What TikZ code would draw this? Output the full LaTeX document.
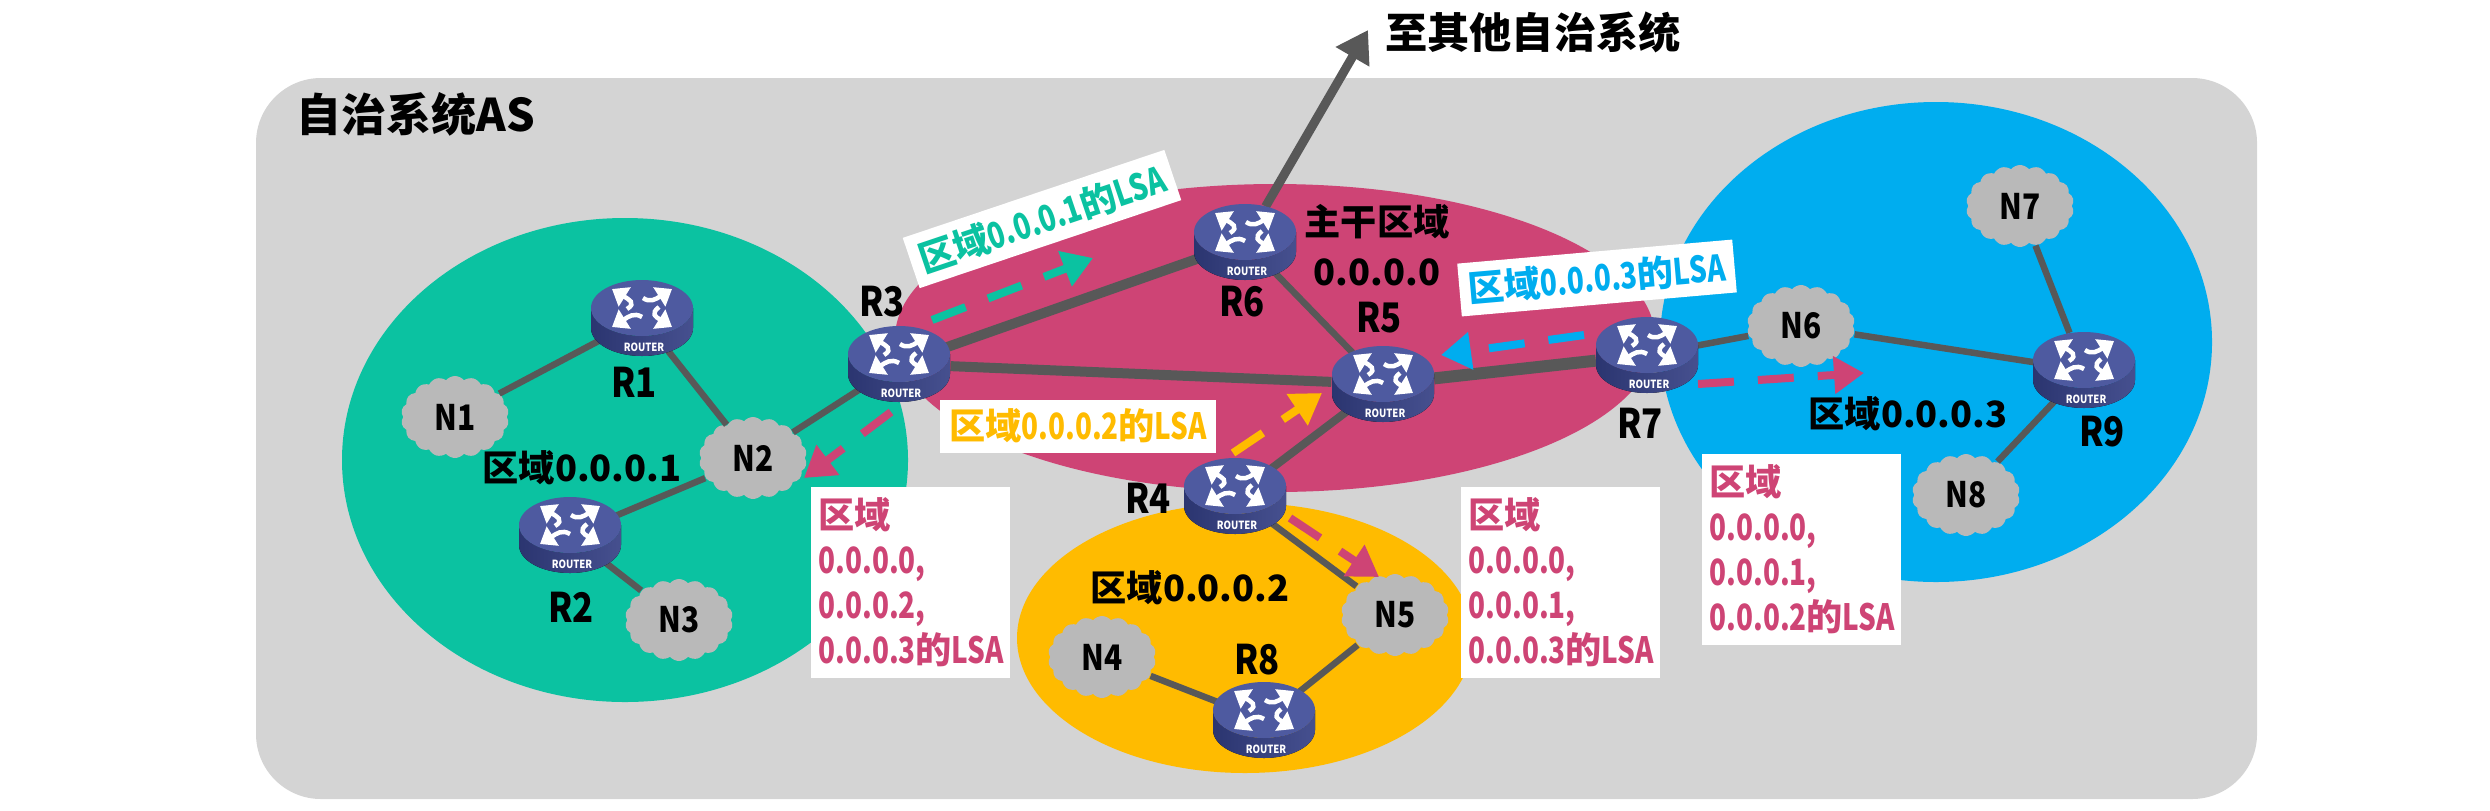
\documentclass[tikz,border=0pt]{standalone}
\usepackage{fontspec}
\setmainfont{Noto Sans CJK SC}[FakeStretch=0.85]
\newfontfamily\zhfont{Noto Sans CJK SC}
\newfontfamily\tagfont{Noto Sans CJK SC}[FakeStretch=0.77]
\usetikzlibrary{arrows.meta,shapes.geometric,shapes.symbols}

\definecolor{asgray}{HTML}{D4D4D4}
\definecolor{linegray}{HTML}{585858}
\definecolor{cloudgray}{HTML}{B9B9B9}
\definecolor{areagreen}{HTML}{0BC2A1}
\definecolor{arearose}{HTML}{CE4475}
\definecolor{areayellow}{HTML}{FFBB00}
\definecolor{areablue}{HTML}{00ADEF}
\definecolor{routertop}{HTML}{4E5AA0}
\definecolor{routerdark}{HTML}{2B3570}
\definecolor{routerside}{HTML}{46508F}

\newcommand{\qy}{{\zhfont\bfseries 区域}}
\newcommand{\de}{{\zhfont\bfseries 的}}

\tikzset{
    routericon/.pic = {
        \fill[left color=routerdark, right color=routerside] (-51,-10) arc[start angle=180, end angle=360, x radius=51, y radius=-28] -- (51,10) arc[start angle=0, end angle=-180, x radius=51, y radius=-28] -- cycle;
        \fill[routertop] (0,-10) ellipse[x radius=51, y radius=28];
        \begin{scope}[shift={(0,-10)}, white, line width=0.45mm, -{Triangle[length=1.5mm, width=2.2mm]}]
            \draw (-15,1) .. controls (-5,-5) and (-14,-9) .. (-30,-19);
            \draw (1,-10) .. controls (8,-5) and (14,-9) .. (30,-19);
            \draw (0,9) .. controls (-8,4) and (-14,9) .. (-30,19);
            \draw (17,-1) .. controls (8,6) and (14,9) .. (30,19);
        \end{scope}
        \node[white, inner sep=0pt, font=\fontsize{3.2}{4}\selectfont\bfseries] (-tag) at (2,29) {ROUTER};
    }
}

\begin{document}
\begin{tikzpicture}[x=0.1mm, y=-0.1mm,
    router/.style = {ellipse, inner sep = 0pt, minimum width = 10.2mm, minimum height = 7.6mm},
    net/.style = {cloud, cloud puffs = 18, cloud puff arc = 100, aspect = 1.3, fill = cloudgray, inner sep = 0pt, minimum width = 10.8mm, minimum height = 8.2mm, font = \fontsize{10}{12}\selectfont\bfseries},
    rname/.style = {inner sep = 0pt, font = \fontsize{11.6}{14}\selectfont\bfseries},
    area/.style = {inner sep = 0pt, font = \zhfont\fontsize{10.3}{13}\selectfont\bfseries},
    link/.style = {draw = linegray, line width = 0.65mm},
    trunk/.style = {draw = linegray, line width = 1mm},
    flow/.style = {line width = 0.8mm, dash pattern = on 3.6mm off 2.4mm, -{Triangle[length = 3mm, width = 3.6mm]}},
    tagline/.style = {fill = white, inner sep = 0pt, minimum width = 27.6mm, minimum height = 5.3mm, font = \tagfont\fontsize{10.3}{13}\selectfont\bfseries},
    tagbox/.style = {fill = white, text = arearose, align = left, inner xsep = 0.8mm, inner ysep = 0pt, text width = 18.3mm, minimum height = 19.1mm, font = \tagfont\fontsize{10.3}{12.8}\selectfont\bfseries}]

    \useasboundingbox (0,0) rectangle (2490,810);

    % background and areas
    \fill[asgray, rounded corners = 6.5mm] (256,78) rectangle (2257,799);
    \fill[arearose] (1275,338) ellipse[x radius=380, y radius=154];
    \fill[areagreen] (625,460) ellipse[x radius=283, y radius=242];
    \fill[areayellow] (1245,638) ellipse[x radius=228, y radius=135];
    \fill[areablue] (1936,342) ellipse[x radius=276, y radius=240];

    % routers
    \node[router] (R1) at (642,318) {};
    \node[router] (R2) at (570,535) {};
    \node[router] (R3) at (899,364) {};
    \node[router] (R4) at (1235,496) {};
    \node[router] (R5) at (1383,384) {};
    \node[router] (R6) at (1245,242) {};
    \node[router] (R7) at (1647,355) {};
    \node[router] (R8) at (1264,720) {};
    \node[router] (R9) at (2084,370) {};

    % networks
    \node[net] (N1) at (455,417) {N1};
    \node[net] (N2) at (753,458) {N2};
    \node[net] (N3) at (679,620) {N3};
    \node[net] (N4) at (1102,657) {N4};
    \node[net] (N5) at (1395,615) {N5};
    \node[net] (N6) at (1801,326) {N6};
    \node[net] (N7) at (2020,206) {N7};
    \node[net] (N8) at (1966,495) {N8};

    % links
    \draw[link] (R1) -- (N1);
    \draw[link] (R1) -- (N2);
    \draw[link] (R3) -- (N2);
    \draw[link] (N2) -- (R2);
    \draw[link] (R2) -- (N3);
    \draw[trunk] (R3) -- (R6);
    \draw[trunk] (R3) -- (R5);
    \draw[link] (R6) -- (R5);
    \draw[trunk, line width = 1.2mm] (R5) -- (R7);
    \draw[link, line width = 0.8mm] (R4) -- (R5);
    \draw[link] (R4) -- (N5);
    \draw[link] (R8) -- (N5);
    \draw[link] (N4) -- (R8);
    \draw[link] (R7) -- (N6);
    \draw[link] (N6) -- (R9);
    \draw[link] (N7) -- (R9);
    \draw[link] (N8) -- (R9);

    \coordinate (out) at (1368,30);
    \draw[trunk, line width = 0.9mm, -{Triangle[length = 3.1mm, width = 3.7mm]}] (R6) -- (out);

    \pic (p1) at (R1) {routericon};
    \pic (p2) at (R2) {routericon};
    \pic (p3) at (R3) {routericon};
    \pic (p4) at (R4) {routericon};
    \pic (p5) at (R5) {routericon};
    \pic (p6) at (R6) {routericon};
    \pic (p7) at (R7) {routericon};
    \pic (p8) at (R8) {routericon};
    \pic (p9) at (R9) {routericon};

    % router names
    \node[rname] (nameR1) at (634,382) {R1};
    \node[rname] (nameR2) at (571,607) {R2};
    \node[rname] (nameR3) at (882,302) {R3};
    \node[rname] (nameR4) at (1148,498) {R4};
    \node[rname] (nameR5) at (1379,318) {R5};
    \node[rname] (nameR6) at (1242,302) {R6};
    \node[rname] (nameR7) at (1640,423) {R7};
    \node[rname] (nameR8) at (1257,660) {R8};
    \node[rname] (nameR9) at (2102,432) {R9};

    % area names
    \node[area] (area1) at (582,468) {区域0.0.0.1};
    \node[area] (area2) at (1190,588) {区域0.0.0.2};
    \node[area] (area3) at (1908,414) {区域0.0.0.3};
    \node[area] (area0) at (1377,222) {主干区域};
    \node[area] (area0id) at (1377,272) {0.0.0.0};
    \node[area, font = \zhfont\fontsize{12.8}{15}\selectfont\bfseries] (title) at (416,114) {自治系统AS};
    \node[area, font = \zhfont\fontsize{12}{15}\selectfont\bfseries] (other) at (1533,32) {至其他自治系统};

    % white tags
    \node[tagline, text = areagreen, rotate = 18.6] (tagA) at (1042,219) {\qy 0.0.0.1\de LSA};
    \node[tagline, text = areayellow] (tagB) at (1078,426) {\qy 0.0.0.2\de LSA};
    \node[tagline, text = areablue, rotate = 5] (tagC) at (1597,278) {\qy 0.0.0.3\de LSA};
    \node[tagbox] (boxA) at (910,582) {\qy\\0.0.0.0,\\0.0.0.2,\\0.0.0.3\de LSA};
    \node[tagbox] (boxB) at (1560,582) {\qy\\0.0.0.0,\\0.0.0.1,\\0.0.0.3\de LSA};
    \node[tagbox] (boxC) at (1801,549) {\qy\\0.0.0.0,\\0.0.0.1,\\0.0.0.2\de LSA};

    % LSA flows
    \coordinate (fa1) at (932,320);
    \coordinate (fa2) at (1093,258);
    \coordinate (fb1) at (891,412);
    \coordinate (fb2) at (804,478);
    \coordinate (fc1) at (1233,453);
    \coordinate (fc2) at (1322,393);
    \coordinate (fd1) at (1584,335);
    \coordinate (fd2) at (1441,355);
    \coordinate (fe1) at (1290,518);
    \coordinate (fe2) at (1379,577);
    \coordinate (ff1) at (1698,384);
    \coordinate (ff2) at (1864,373);
    \draw[flow, areagreen] (fa1) -- (fa2);
    \draw[flow, arearose] (fb1) -- (fb2);
    \draw[flow, areayellow] (fc1) -- (fc2);
    \draw[flow, areablue] (fd1) -- (fd2);
    \draw[flow, arearose] (fe1) -- (fe2);
    \draw[flow, arearose] (ff1) -- (ff2);

\end{tikzpicture}
\end{document}
